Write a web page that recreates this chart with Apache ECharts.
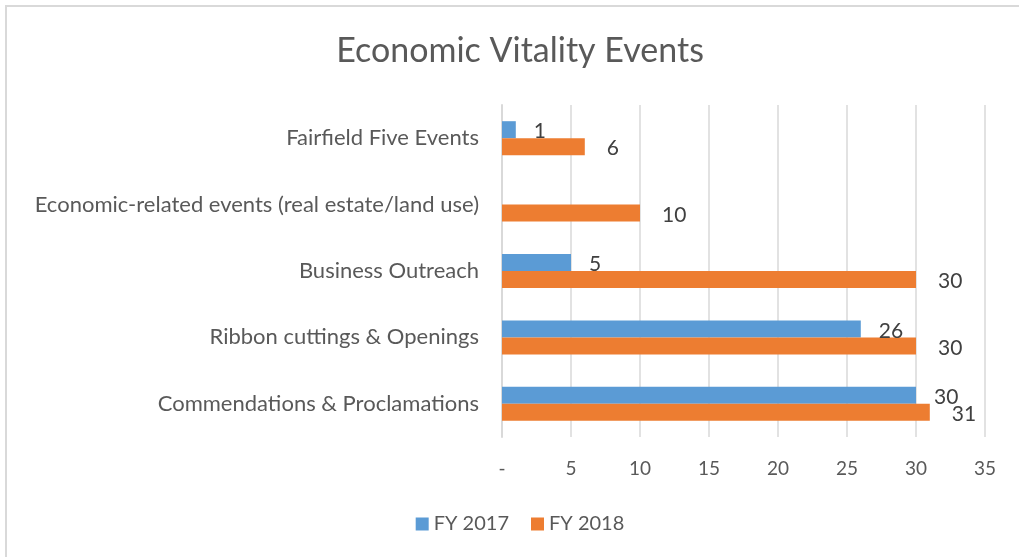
<!DOCTYPE html>
<html>
<head>
<meta charset="utf-8">
<script src="https://cdn.jsdelivr.net/npm/echarts@6/dist/echarts.min.js"></script>
<style>
  html, body { margin: 0; padding: 0; width: 1019px; height: 557px; overflow: hidden; background: #fff; }
  .frame { position: absolute; left: 5px; top: 5px; width: 1100px; height: 700px; border-left: 2px solid #d9d9d9; border-top: 2px solid #d9d9d9; }
  .economic-chart { position: absolute; left: 7px; top: 7px; width: 1026px; height: 560px; }
</style>
</head>
<body>
<div class="frame"></div>
<div class="economic-chart" id="chart"></div>
<script>
const categories = [
  "Fairfield Five Events",
  "Economic-related events (real estate/land use)",
  "Business Outreach",
  "Ribbon cuttings & Openings",
  "Commendations & Proclamations"
];
const fy2017 = [1, null, 5, 26, 30];
const fy2018 = [6, 10, 30, 30, 31];
const tickLabels = ["-", "5", "10", "15", "20", "25", "30", "35"];

const font = "Lato, 'Open Sans', sans-serif";
const myChart = echarts.init(document.getElementById("chart"));

const option = {
  animation: false,
  textStyle: { fontFamily: font },
  title: {
    text: "Economic Vitality Events",
    left: "center",
    top: 22,
    textStyle: { color: "#595959", fontSize: 34, fontWeight: "normal", fontFamily: font }
  },
  legend: {
    bottom: 28,
    left: "center",
    itemWidth: 13,
    itemHeight: 13,
    itemGap: 22,
    icon: "rect",
    textStyle: { color: "#595959", fontSize: 20, fontFamily: font },
    data: ["FY 2017", "FY 2018"]
  },
  grid: { left: 495, right: 48, top: 98, height: 332 },
  xAxis: {
    type: "value",
    min: 0,
    max: 35,
    interval: 5,
    axisLine: { show: false },
    axisTick: { show: false },
    splitLine: { lineStyle: { color: "#d9d9d9", width: 1.5 } },
    axisLabel: {
      color: "#595959",
      fontSize: 19,
      margin: 22,
      formatter: (v, i) => tickLabels[i]
    }
  },
  yAxis: {
    type: "category",
    inverse: true,
    data: categories,
    axisLine: { lineStyle: { color: "#d9d9d9", width: 2 } },
    axisTick: { show: false },
    axisLabel: { color: "#595959", fontSize: 22, margin: 23 }
  },
  series: [
    {
      name: "FY 2017",
      type: "bar",
      data: fy2017,
      barWidth: 17,
      barGap: "0%",
      itemStyle: { color: "#5b9bd5" },
      label: { show: true, position: "right", distance: 18, color: "#404040", fontSize: 21, offset: [0, 2] }
    },
    {
      name: "FY 2018",
      type: "bar",
      data: fy2018,
      barWidth: 17,
      barGap: "0%",
      itemStyle: { color: "#ed7d31" },
      label: { show: true, position: "right", distance: 22, color: "#404040", fontSize: 21, offset: [0, 2] }
    }
  ]
};

myChart.setOption(option);
window.addEventListener("resize", () => myChart.resize());
</script>
</body>
</html>
